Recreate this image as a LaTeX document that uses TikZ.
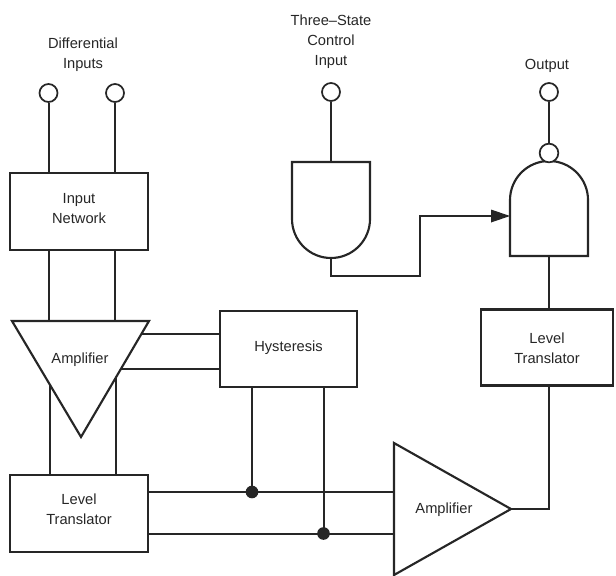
\documentclass[tikz,border=0pt]{standalone}
\usepackage{fontspec}
\setmainfont{Liberation Sans}
\usetikzlibrary{arrows.meta,calc}
\tikzset{
  wire/.style={line width=1.5pt,black!85},
  shapeline/.style={line width=1.6pt,black!85,line join=miter},
  block/.style={draw=black!85,line width=1.6pt,rectangle,inner sep=0pt,fill=white},
  pin/.style={draw=black!85,line width=1.3pt,circle,inner sep=0pt,minimum size=13.5pt,fill=white},
  dotj/.style={fill=black!85,circle,inner sep=0pt,minimum size=9.5pt},
  lbl/.style={align=center,inner sep=0pt,text=black!85,font=\fontsize{11}{15}\selectfont}
}
\begin{document}
\begin{tikzpicture}[x=0.75pt,y=-0.75pt]
\useasboundingbox (0,0) rectangle (616,575);
% pins
\node[pin] (pa) at (48.5,93) {};
\node[pin] (pb) at (115,93) {};
\node[pin] (pc) at (331,92) {};
\node[pin] (po) at (549,92) {};
\node[lbl] (l1) at (83,54.5) {Differential\\Inputs};
\node[lbl] (l2) at (331,41.5) {Three--State\\Control\\Input};
\node[lbl] (l3) at (547,66) {Output};
% anchors
\coordinate (ampTL) at (12,321);
\coordinate (ampTR) at (149,321);
\coordinate (ampB) at (81,437);
\coordinate (a2T) at (394,443);
\coordinate (a2B) at (394,575);
\coordinate (a2O) at (511,509);
% blocks
\node[block,minimum width=103.5pt,minimum height=57.5pt] (inp) at (79,211.5) {};
\node[lbl] (inpt) at (79,209) {Input\\Network};
\node[block,minimum width=103.5pt,minimum height=57.5pt] (lt1) at (79,513.5) {};
\node[lbl] (lt1t) at (79,509.5) {Level\\Translator};
\node[block,minimum width=103pt,minimum height=57pt] (hys) at (288.5,349) {};
\node[lbl] (hyst) at (288.5,348) {Hysteresis};
\node[block,minimum width=99pt,minimum height=57pt] (lt2) at (547,347.5) {};
\node[lbl] (lt2t) at (547,348.5) {Level\\Translator};
\draw[wire] (pa) -- (pa |- inp.north);
\draw[wire] (pb) -- (pb |- inp.north);
\draw[wire] (pa |- inp.south) -- (pa |- ampTL);
\draw[wire] (pb |- inp.south) -- (pb |- ampTL);
\draw[wire] (49.5,384) -- (49.5,475);
\draw[wire] (115.5,378) -- (115.5,475);
\draw[wire] (141,334) -- (hys.west |- 0,334);
\draw[wire] (121,369) -- (hys.west |- 0,369);
% amplifier 1
\draw[shapeline] (ampTL) -- (ampTR) -- (ampB) -- cycle;
\node[lbl] (alab) at (80,359.5) {Amplifier};
% hysteresis down + buses
\coordinate (j1) at (252,492);
\coordinate (j2) at (323.5,533.5);
\draw[wire] (j1 |- hys.south) -- (j1);
\draw[wire] (j2 |- hys.south) -- (j2);
\draw[wire] (lt1.east |- j1) -- (a2T |- j1);
\draw[wire] (lt1.east |- j2) -- (a2T |- j2);
\node[dotj] (d1) at (j1) {};
\node[dotj] (d2) at (j2) {};
% amplifier 2
\draw[shapeline] (a2T) -- (a2O) -- (a2B) -- cycle;
\node[lbl] (blab) at (444,510) {Amplifier};
% gate left
\draw[shapeline] (292,162) -- (370,162) -- (370,219) arc[start angle=0,end angle=180,x radius=39,y radius=39] -- cycle;
\coordinate (g1T) at (331,162);
\coordinate (g1B) at (331,258);
\draw[wire] (pc) -- (g1T);
\coordinate (g2I) at (510,216);
\coordinate (k) at (420,216);
\draw[wire] (g1B) -- (331,276) -- (420,276) -- (k) -- (491,216);
\fill[black!85] (g2I) -- (491,209.5) -- (491,222.5) -- cycle;
% gate right
\draw[shapeline] (510,256) -- (588,256) -- (588,200) arc[start angle=0,end angle=180,x radius=39,y radius=-39] -- cycle;
\node[pin,minimum size=14pt] (bub) at (549,153) {};
\draw[wire] (po) -- (bub);
\coordinate (g2B) at (549,256);
\draw[wire] (g2B) -- (g2B |- lt2.north);
\draw[wire] (a2O) -- (g2B |- a2O) -- (g2B |- lt2.south);
\end{tikzpicture}
\end{document}
